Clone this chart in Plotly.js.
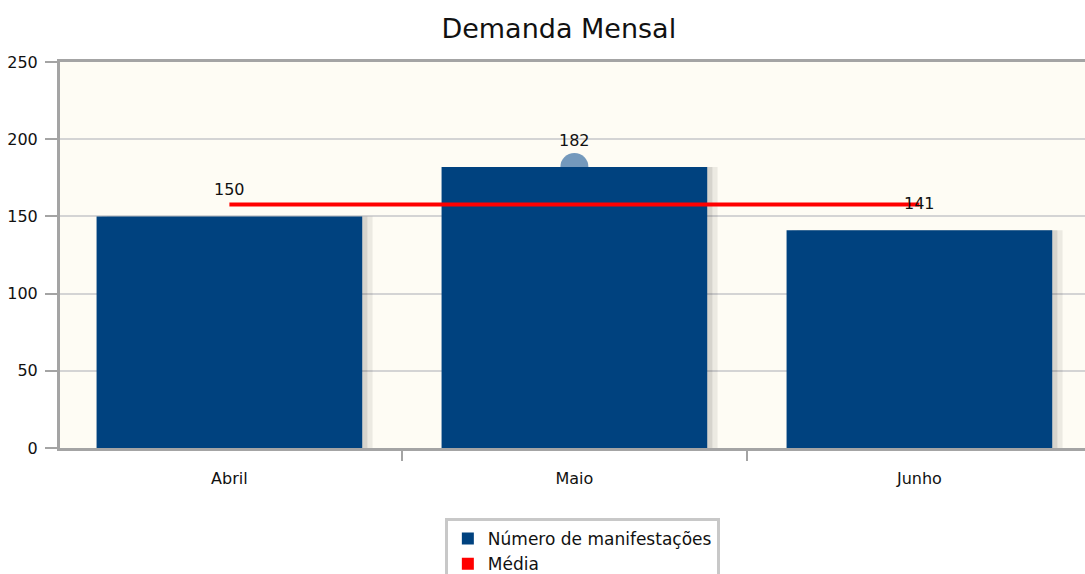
<!DOCTYPE html>
<html>
<head>
<meta charset="utf-8">
<script src="https://cdn.plot.ly/plotly-3.0.1.min.js"></script>
<style>html,body{margin:0;padding:0;background:#fff;overflow:hidden}#chart{width:1085px;height:574px}</style>
</head>
<body>
<div id="chart"></div>
<script>
const months = ["Abril", "Maio", "Junho"];
const manifestacoes = [150, 182, 141];
const media = [157.67, 157.67, 157.67];
const highlightMonth = ["Maio"];
const highlightValue = [182];
const yTicks = [0, 50, 100, 150, 200, 250];

const FONT = "DejaVu Sans, Verdana, sans-serif";
const barColor = "#00427f";

const traces = [
  {
    type: "scatter", mode: "markers", x: highlightMonth, y: highlightValue,
    xaxis: "x", yaxis: "y",
    marker: {size: 28, color: "rgba(70,120,170,0.75)"},
    showlegend: false, hoverinfo: "skip"
  },
  {
    type: "bar", x: months, y: manifestacoes, xaxis: "x2", yaxis: "y2",
    width: 0.77, offset: -0.385 + 0.03,
    marker: {color: "rgba(0,0,0,0.07)", line: {width: 0}},
    showlegend: false, hoverinfo: "skip"
  },
  {
    type: "bar", x: months, y: manifestacoes, xaxis: "x2", yaxis: "y2",
    width: 0.77, offset: -0.385 + 0.015,
    marker: {color: "rgba(0,0,0,0.09)", line: {width: 0}},
    showlegend: false, hoverinfo: "skip"
  },
  {
    type: "bar", name: "Número de manifestações", x: months, y: manifestacoes,
    xaxis: "x2", yaxis: "y2",
    width: 0.77, offset: -0.385,
    marker: {color: barColor, line: {width: 0}},
    showlegend: true
  },
  {
    type: "scatter", mode: "lines", name: "Média", x: months, y: media,
    xaxis: "x2", yaxis: "y2",
    line: {color: "#ff0000", width: 4},
    showlegend: false
  },
  {
    type: "bar", name: "Média", x: [null], y: [null], xaxis: "x2", yaxis: "y2",
    marker: {color: "#ff0000"}, showlegend: true, hoverinfo: "skip"
  }
];

const annotations = months.map((m, i) => ({
  x: m, y: manifestacoes[i], xref: "x2", yref: "y2",
  text: String(manifestacoes[i]), showarrow: false,
  yanchor: "bottom", yshift: 15,
  font: {family: FONT, size: 16, color: "#111"}
}));

const xr = [-0.491, 2.48];
const yr = [0, 250];

const layout = {
  width: 1085, height: 574,
  margin: {l: 60, r: 0, t: 62, b: 126, autoexpand: false},
  paper_bgcolor: "#ffffff",
  plot_bgcolor: "#fefcf4",
  barmode: "overlay",
  title: {text: "Demanda Mensal", x: 0.515, xanchor: "center", y: 0.951, yanchor: "middle",
          font: {family: FONT, size: 27, color: "#111"}},
  xaxis: {
    type: "category", range: xr, categoryorder: "array", categoryarray: months,
    showline: true, linecolor: "#a4a4a4", linewidth: 3, mirror: true,
    ticks: "outside", tickson: "boundaries", ticklen: 10, tickcolor: "#a4a4a4", tickwidth: 2,
    ticklabelstandoff: 14, automargin: false,
    showgrid: false, zeroline: false,
    tickfont: {family: FONT, size: 16, color: "#111"}
  },
  yaxis: {
    range: yr, tickvals: yTicks, automargin: false,
    showline: true, linecolor: "#a4a4a4", linewidth: 3,
    ticks: "outside", ticklen: 12, tickcolor: "#a4a4a4", tickwidth: 2,
    ticklabelstandoff: 4,
    showgrid: true, gridcolor: "#d4d4d4", gridwidth: 2, zeroline: false,
    tickfont: {family: FONT, size: 16, color: "#111"}
  },
  xaxis2: {
    type: "category", range: xr, categoryorder: "array", categoryarray: months,
    overlaying: "x", matches: "x", visible: false
  },
  yaxis2: {range: yr, overlaying: "y", visible: false},
  annotations: annotations,
  showlegend: true,
  legend: {
    orientation: "v", xref: "container", yref: "container",
    x: 0.410, xanchor: "left", y: 0.0976, yanchor: "top",
    bgcolor: "#ffffff", bordercolor: "#c8c8c8", borderwidth: 3,
    font: {family: FONT, size: 17, color: "#111"},
    tracegroupgap: 0, itemwidth: 30
  }
};

Plotly.newPlot("chart", traces, layout, {displayModeBar: false, staticPlot: true});
</script>
</body>
</html>
